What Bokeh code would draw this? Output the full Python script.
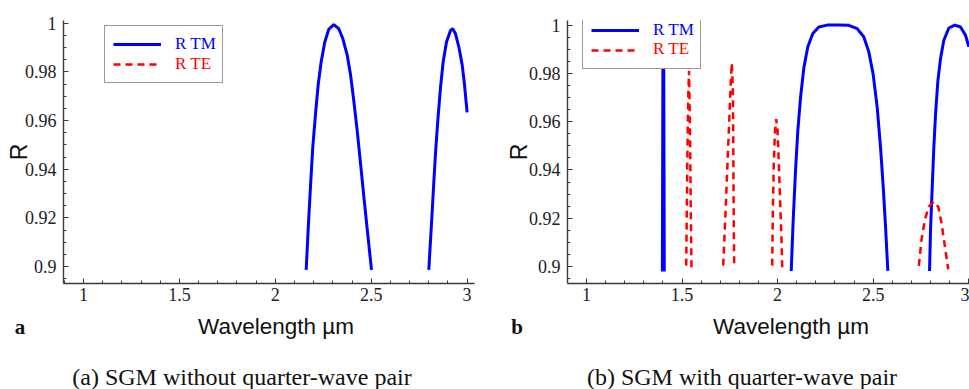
from bokeh.plotting import figure
from bokeh.layouts import row, column
from bokeh.models import (Range1d, SingleIntervalTicker, CustomJSTickFormatter,
                          Legend, LegendItem, Div)
from bokeh.core.properties import value
from bokeh.embed import file_html
from bokeh.resources import INLINE

# ---------------- data ----------------
# Panel (a): SGM without quarter-wave pair
tm_a_seg1_x = [2.161, 2.1715, 2.1835, 2.1955, 2.2096, 2.2237, 2.2393, 2.2581, 2.2789, 2.3050,
               2.3311, 2.3519, 2.3749, 2.3921, 2.4093, 2.4270, 2.4442, 2.4614, 2.4791, 2.5016]
tm_a_seg1_y = [0.8987, 0.9155, 0.9330, 0.9492, 0.9627, 0.9748, 0.9842, 0.9923, 0.9975, 0.9994,
               0.9977, 0.9937, 0.9869, 0.9789, 0.9681, 0.9559, 0.9425, 0.9290, 0.9155, 0.8987]
tm_a_seg2_x = [2.8003, 2.8128, 2.8233, 2.8352, 2.8472, 2.8613, 2.8754, 2.8926, 2.9135, 2.9254,
               2.9395, 2.9567, 2.9744, 2.9864, 3.0]
tm_a_seg2_y = [0.8987, 0.9155, 0.9303, 0.9465, 0.9600, 0.9735, 0.9842, 0.9923, 0.9970, 0.9977,
               0.9957, 0.9903, 0.9829, 0.9748, 0.9634]
# TE stays below R = 0.9 in panel (a): only a legend placeholder
te_a_x = [float("nan")]
te_a_y = [float("nan")]

# Panel (b): SGM with quarter-wave pair
tm_b_seg1_x = [1.397, 1.400, 1.402, 1.404, 1.407]
tm_b_seg1_y = [0.898, 0.990, 0.9995, 0.990, 0.898]
tm_b_seg2_x = [2.0712, 2.0816, 2.0937, 2.1057, 2.1198, 2.1371, 2.1580, 2.1842, 2.2156, 2.2596,
               2.3202, 2.3726, 2.4165, 2.4511, 2.4772, 2.5003, 2.5212, 2.5385, 2.5526, 2.5646, 2.5767]
tm_b_seg2_y = [0.8982, 0.9194, 0.9398, 0.9562, 0.9699, 0.9822, 0.9910, 0.9965, 0.9992, 1.0,
               1.0, 0.9999, 0.9985, 0.9951, 0.9889, 0.9794, 0.9658, 0.9494, 0.9330, 0.9167, 0.8982]
tm_b_seg3_x = [2.7949, 2.8001, 2.8090, 2.8174, 2.8263, 2.8383, 2.8524, 2.8697, 2.8959, 2.9273,
               2.9571, 2.9833, 3.0005]
tm_b_seg3_y = [0.8982, 0.9153, 0.9330, 0.9494, 0.9630, 0.9767, 0.9862, 0.9937, 0.9988, 1.0,
               0.9992, 0.9958, 0.9910]

te_b_seg1_x = [1.5217, 1.5249, 1.5285, 1.5322, 1.5365, 1.5390, 1.5426, 1.5458, 1.5495]
te_b_seg1_y = [0.9004, 0.9222, 0.9495, 0.9700, 0.9810, 0.9700, 0.9495, 0.9222, 0.8984]
te_b_seg2_x = [1.7153, 1.7274, 1.7378, 1.7483, 1.7551, 1.7603, 1.7656, 1.7677, 1.7692, 1.7708, 1.7729]
te_b_seg2_y = [0.9004, 0.9222, 0.9427, 0.9632, 0.9768, 0.9843, 0.9741, 0.9564, 0.9359, 0.9154, 0.8997]
te_b_seg3_x = [1.9717, 1.9749, 1.9801, 1.9854, 1.9927, 1.9995, 2.0063, 2.0136, 2.0204, 2.0241]
te_b_seg3_y = [0.9004, 0.9222, 0.9427, 0.9550, 0.9611, 0.9564, 0.9427, 0.9263, 0.9113, 0.8997]
te_b_seg4_x = [2.7389, 2.7530, 2.7703, 2.7912, 2.8174, 2.8404, 2.8577, 2.8749, 2.8927]
te_b_seg4_y = [0.9003, 0.9112, 0.9194, 0.9248, 0.9269, 0.9248, 0.9180, 0.9085, 0.8989]

x_label = "Wavelength µm"
y_label = "R"
legend_labels = ["R TM", "R TE"]
captions = ["(a) SGM without quarter-wave pair", "(b) SGM with quarter-wave pair"]
panel_tags = ["a", "b"]

BLUE = "#0000ff"
RED = "#ff0000"
INK = "#111111"
AX = "#3a3a3a"
SERIF = "Liberation Serif"
SANS = "Liberation Sans"

fmt = CustomJSTickFormatter(code="return String(parseFloat(tick.toFixed(4)));")


def style(p, label_standoff):
    p.outline_line_color = None
    p.grid.visible = False
    p.background_fill_color = "white"
    p.border_fill_color = "white"
    p.xaxis.ticker = SingleIntervalTicker(interval=0.5, num_minor_ticks=5)
    p.yaxis.ticker = SingleIntervalTicker(interval=0.02, num_minor_ticks=4)
    for ax in (p.xaxis[0], p.yaxis[0]):
        ax.formatter = fmt
        ax.axis_line_color = AX
        ax.axis_line_width = 1.4
        ax.major_tick_line_color = AX
        ax.minor_tick_line_color = AX
        ax.major_tick_in = 5
        ax.major_tick_out = 0
        ax.minor_tick_in = 3
        ax.minor_tick_out = 0
        ax.major_label_text_font = SERIF
        ax.major_label_text_font_size = "18px"
        ax.major_label_text_color = "#222222"
    p.xaxis.major_label_standoff = 4
    p.yaxis.major_label_standoff = 7
    p.yaxis.axis_label = y_label
    p.yaxis.axis_label_text_font = SANS
    p.yaxis.axis_label_text_font_style = "normal"
    p.yaxis.axis_label_text_font_size = "23px"
    p.yaxis.axis_label_text_color = INK
    p.yaxis.axis_label_standoff = label_standoff


def make_legend(p, r_tm, r_te, loc):
    # legend box with the line samples; its coloured texts are laid over it below
    leg = Legend(items=[LegendItem(label=value(" "), renderers=[r_tm]),
                        LegendItem(label=value(" "), renderers=[r_te])],
                 location=loc, margin=0, glyph_width=48, glyph_height=20,
                 label_width=41, label_height=20, label_standoff=12, padding=8,
                 spacing=0, label_text_font=SERIF, label_text_font_size="17px",
                 border_line_color="#333333", border_line_width=1.3,
                 background_fill_color="white", background_fill_alpha=1.0)
    p.add_layout(leg)


def text_div(width, height, items):
    spans = []
    for (x, y, txt, font, size, weight, color, anchor) in items:
        tx = "-50%" if anchor == "center" else "0"
        spans.append(
            f'<span style="position:absolute;left:{x}px;top:{y}px;z-index:10;'
            f'transform:translate({tx},-50%);white-space:nowrap;line-height:1;'
            f"font-family:'{font}';font-size:{size}px;font-weight:{weight};"
            f'color:{color};">{txt}</span>')
    html = (f'<div style="position:relative;width:{width}px;height:{height}px;'
            f'overflow:visible;">' + "".join(spans) + "</div>")
    return Div(text=html, width=width, height=height, margin=0,
               styles={"overflow": "visible", "z-index": "10"})


# ---------------- panel (a) ----------------
pa = figure(width=490, height=316, x_range=Range1d(0.8957, 3.0386),
            y_range=Range1d(0.8931, 1.0011), output_backend="svg",
            toolbar_location=None, min_border_left=63, min_border_right=16,
            min_border_top=20, min_border_bottom=29)
style(pa, -10)
ra_tm = pa.multi_line(xs=[tm_a_seg1_x, tm_a_seg2_x], ys=[tm_a_seg1_y, tm_a_seg2_y],
                      line_color=BLUE, line_width=3)
ra_te = pa.line(x=te_a_x, y=te_a_y, line_color=RED, line_width=2.5, line_dash="7 5")
make_legend(pa, ra_tm, ra_te, (41, 200))

# ---------------- panel (b) ----------------
pb = figure(width=479, height=316, x_range=Range1d(0.9006, 3.004),
            y_range=Range1d(0.8930, 1.0019), output_backend="svg",
            toolbar_location=None, min_border_left=77, min_border_right=0,
            min_border_top=17, min_border_bottom=33)
style(pb, -6)
rb_tm = pb.multi_line(xs=[tm_b_seg1_x, tm_b_seg2_x, tm_b_seg3_x],
                      ys=[tm_b_seg1_y, tm_b_seg2_y, tm_b_seg3_y],
                      line_color=BLUE, line_width=3)
rb_te = pb.multi_line(xs=[te_b_seg1_x, te_b_seg2_x, te_b_seg3_x, te_b_seg4_x],
                      ys=[te_b_seg1_y, te_b_seg2_y, te_b_seg3_y, te_b_seg4_y],
                      line_color=RED, line_width=2.5, line_dash="7 5")
make_legend(pb, rb_tm, rb_te, (15, 214))

# ---------------- texts under the panels (legend texts reach up over the boxes) ----------------
da = text_div(490, 73, [(175, -273, legend_labels[0], SERIF, 17, "normal", BLUE, "left"),
                        (175, -253, legend_labels[1], SERIF, 17, "normal", RED, "left"),
                        (20, 11, panel_tags[0], SERIF, 21, "bold", INK, "center"),
                        (276, 11, x_label, SANS, 22.5, "normal", INK, "center"),
                        (242, 61, captions[0], SERIF, 24, "normal", INK, "center")])
db = text_div(479, 73, [(163, -287, legend_labels[0], SERIF, 17, "normal", BLUE, "left"),
                        (163, -268, legend_labels[1], SERIF, 17, "normal", RED, "left"),
                        (27, 11, panel_tags[1], SERIF, 21, "bold", INK, "center"),
                        (301, 11, x_label, SANS, 22.5, "normal", INK, "center"),
                        (252, 61, captions[1], SERIF, 24, "normal", INK, "center")])

layout = column(row(pa, pb, spacing=0), row(da, db, spacing=0), spacing=0)
open("out.html", "w").write(file_html(layout, INLINE))
